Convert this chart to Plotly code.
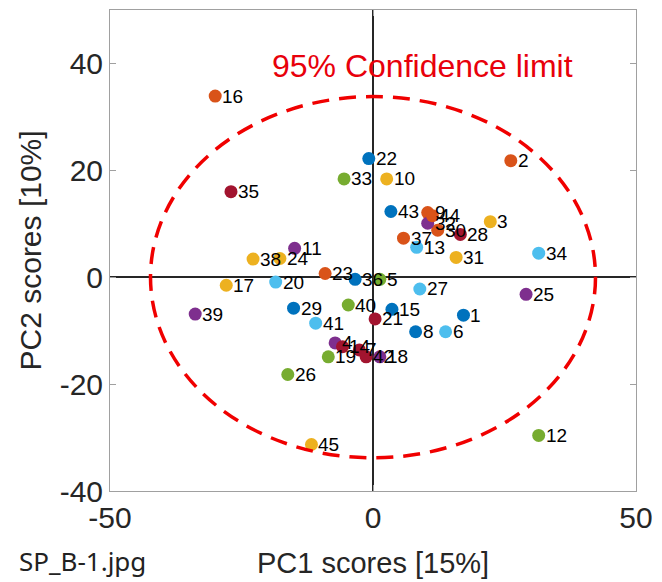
import plotly.graph_objects as go

# sample ids 1..45
sample_ids = list(range(1, 46))
pc1 = [17.2, 26.2, 22.3, -7.2, 1.3, 13.8, -2.6, 8.1, 10.4, 2.6,
       -14.9, 31.5, 8.3, -5.8, 3.6, -30.0, -27.9, 1.3, -8.5, -18.5,
       0.4, -0.8, -9.1, -17.7, 29.1, -16.2, 8.9, 16.6, -15.1, 12.3,
       15.8, 10.4, -5.5, 31.5, -27.0, -3.4, 5.8, -22.8, -33.8, -4.7,
       -10.9, -1.3, 3.4, 11.3, -11.7]
pc2 = [-7.1, 21.8, 10.4, -12.3, -0.4, -10.2, -13.6, -10.2, 12.1, 18.4,
       5.4, -29.6, 5.6, -13.0, -6.0, 33.9, -1.5, -14.9, -14.9, -0.9,
       -7.8, 22.2, 0.7, 3.5, -3.2, -18.2, -2.2, 8.0, -5.8, 8.8,
       3.7, 10.1, 18.4, 4.5, 16.0, -0.4, 7.3, 3.4, -6.9, -5.2,
       -8.6, -14.9, 12.3, 11.5, -31.3]

# 95% confidence ellipse semi-axes (PC1, PC2)
ellipse_a = 42.3
ellipse_b = 33.8

x_ticks = [-50, 0, 50]
y_ticks = [-40, -20, 0, 20, 40]

palette = ["#0072BD", "#D95319", "#EDB120", "#7E2F8E", "#77AC30", "#4DBEEE", "#A2142F"]
colors = [palette[(i - 1) % 7] for i in sample_ids]

FONT = "Liberation Sans, Arial, sans-serif"

fig = go.Figure()
fig.add_shape(type="circle", xref="x", yref="y",
              x0=-ellipse_a, x1=ellipse_a, y0=-ellipse_b, y1=ellipse_b,
              line=dict(color="#F00000", width=3.5, dash="17px,10px"), layer="above")
fig.add_trace(go.Scatter(
    x=pc1, y=pc2, mode="markers",
    marker=dict(size=13, color=colors, line=dict(width=0)),
    cliponaxis=False, showlegend=False))

for sid, xv, yv in zip(sample_ids, pc1, pc2):
    fig.add_annotation(x=xv, y=yv, xref="x", yref="y", text=str(sid), showarrow=False,
                       xanchor="left", yanchor="middle", xshift=5,
                       font=dict(family=FONT, size=19, color="black"))

fig.add_annotation(x=9.4, y=39.5, xref="x", yref="y", text="95% Confidence limit",
                   showarrow=False, font=dict(family=FONT, size=32, color="#E8000B"))

axis_common = dict(showgrid=False, zeroline=True, zerolinecolor="#262626", zerolinewidth=1.5,
                   showline=True, linecolor="#A0A0A0", linewidth=1, mirror="ticks",
                   ticks="inside", ticklen=6, tickcolor="#A0A0A0",
                   tickfont=dict(family=FONT, size=30, color="#262626"))
fig.update_xaxes(range=[-50, 50], tickvals=x_ticks, ticktext=[str(v) for v in x_ticks], **axis_common)
fig.update_yaxes(range=[-40, 50], tickvals=y_ticks, ticktext=[str(v) for v in y_ticks], **axis_common)

fig.add_annotation(x=0.5, y=0, xref="paper", yref="paper", yshift=-72, yanchor="middle",
                   text="PC1 scores [15%]", showarrow=False,
                   font=dict(family=FONT, size=29, color="#262626"))
fig.add_annotation(x=0, y=0.5, xref="paper", yref="paper", xshift=-80, xanchor="center",
                   text="PC2 scores [10%]", showarrow=False, textangle=-90,
                   font=dict(family=FONT, size=30, color="#262626"))
fig.add_annotation(x=0, y=0, xref="paper", yref="paper", xshift=-28, yshift=-70,
                   xanchor="center", yanchor="middle",
                   text="SP_B-1.jpg", showarrow=False,
                   font=dict(family="Noto Sans, sans-serif", size=26, color="#222222"))

fig.update_layout(width=662, height=582, margin=dict(l=110, r=22, t=9, b=91),
                  plot_bgcolor="white", paper_bgcolor="white")
fig.write_html("out.html")
